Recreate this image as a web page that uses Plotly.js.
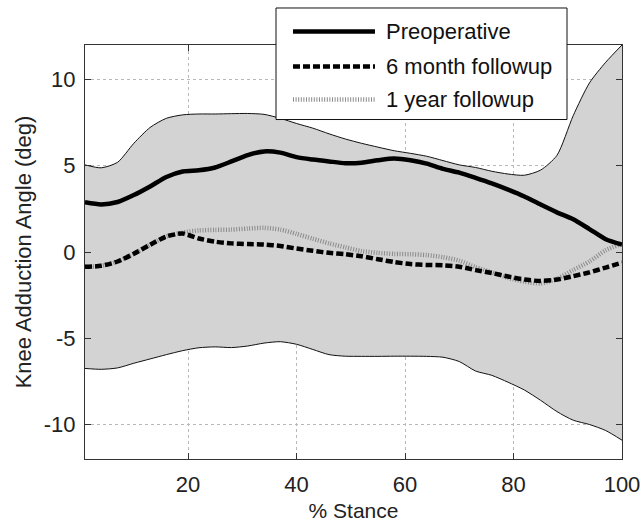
<!DOCTYPE html>
<html>
<head>
<meta charset="utf-8">
<script src="https://cdn.plot.ly/plotly-3.0.1.min.js"></script>
<style>html,body{margin:0;padding:0;background:#fff;}#chart{width:641px;height:522px;}</style>
</head>
<body>
<div id="chart"></div>
<script>
// % stance sample points
const stance = [1,4,7,10,13,16,19,22,25,28,31,34,37,40,43,46,49,52,55,58,61,64,67,70,73,76,79,82,85,88,91,94,97,100];
// normal band (upper / lower bounds), deg
const bandUpper = [5.05,4.88,5.2,6.3,7.22,7.75,7.95,8.0,8.0,8.02,8.03,7.98,7.75,7.45,7.18,6.85,6.55,6.3,6.08,5.87,5.72,5.55,5.3,5.05,4.9,4.68,4.52,4.45,4.75,5.6,7.9,9.8,11.0,12.0];
const bandLower = [-6.75,-6.8,-6.72,-6.45,-6.2,-5.95,-5.72,-5.55,-5.5,-5.54,-5.45,-5.28,-5.2,-5.35,-5.65,-5.95,-6.04,-6.05,-6.05,-6.04,-6.04,-6.05,-6.1,-6.35,-6.9,-7.15,-7.55,-8.0,-8.6,-9.25,-9.75,-10.0,-10.35,-10.91];
// group means, deg
const preoperative = [2.88,2.76,2.9,3.3,3.8,4.35,4.67,4.74,4.9,5.25,5.62,5.83,5.76,5.5,5.36,5.25,5.15,5.18,5.32,5.42,5.32,5.12,4.82,4.6,4.3,3.98,3.62,3.22,2.75,2.3,1.9,1.33,0.74,0.43];
const sixMonth = [-0.86,-0.8,-0.55,-0.1,0.42,0.9,1.07,0.78,0.6,0.5,0.46,0.43,0.35,0.2,0.07,-0.05,-0.13,-0.25,-0.42,-0.58,-0.7,-0.75,-0.77,-0.85,-1.05,-1.22,-1.42,-1.6,-1.68,-1.6,-1.4,-1.18,-0.9,-0.62];
const oneYear = [-0.86,-0.8,-0.55,-0.1,0.42,0.9,1.12,1.25,1.28,1.3,1.36,1.4,1.3,1.05,0.77,0.5,0.27,0.05,-0.05,-0.11,-0.13,-0.18,-0.3,-0.5,-0.88,-1.18,-1.5,-1.72,-1.82,-1.55,-1.05,-0.55,0.1,0.49];

const seriesNames = ["Preoperative", "6 month followup", "1 year followup"];
const xTicks = [20,40,60,80,100];
const xTickText = ["20","40","60","80","100"];
const yTicks = [-10,-5,0,5,10];
const yTickText = ["-10","-5","0","5","10"];

const FONT = "Liberation Sans, Arial, Helvetica, sans-serif";
const sm = 0.7;

const styles = [
  {color:"#000", width:4.5, dash:"solid"},
  {color:"#000", width:4.5, dash:"7px,3px"},
  {color:"#8a8a8a", width:4.5, dash:"1px,1.6px"}
];

const traces = [
  {x: stance, y: bandLower, mode:"lines", line:{color:"#111", width:1, shape:"spline", smoothing:sm}, showlegend:false, hoverinfo:"skip"},
  {x: stance, y: bandUpper, mode:"lines", fill:"tonexty", fillcolor:"#d3d3d3", line:{color:"#111", width:1, shape:"spline", smoothing:sm}, showlegend:false, hoverinfo:"skip"},
  {x: stance, y: oneYear, name: seriesNames[2], mode:"lines", line:{color:styles[2].color, width:styles[2].width, dash:styles[2].dash, shape:"spline", smoothing:sm}, showlegend:false},
  {x: stance, y: sixMonth, name: seriesNames[1], mode:"lines", line:{color:styles[1].color, width:styles[1].width, dash:styles[1].dash, shape:"spline", smoothing:sm}, showlegend:false},
  {x: stance, y: preoperative, name: seriesNames[0], mode:"lines", line:{color:styles[0].color, width:styles[0].width, dash:styles[0].dash, shape:"spline", smoothing:sm}, showlegend:false}
];

// manual legend (box, samples, labels) in paper coordinates
const legRows = [1.0326, 0.9481, 0.8684];
const shapes = [
  {type:"rect", xref:"paper", yref:"paper", x0:0.3557, x1:0.8976, y0:0.820, y1:1.0894, fillcolor:"#fff", line:{color:"#111", width:1}, layer:"above"}
];
const annotations = [];
seriesNames.forEach((n,i)=>{
  shapes.push({type:"line", xref:"paper", yref:"paper", x0:0.3873, x1:0.5400, y0:legRows[i], y1:legRows[i], line:{color:styles[i].color, width:styles[i].width, dash:styles[i].dash}, layer:"above"});
  annotations.push({xref:"paper", yref:"paper", x:0.5568, y:legRows[i], xanchor:"left", yanchor:"middle", text:n, showarrow:false, font:{family:FONT, size:22, color:"#111"}});
});

const axisCommon = {
  showline:true, linecolor:"#333", linewidth:1, mirror:"ticks",
  ticks:"inside", ticklen:6, tickcolor:"#333", tickwidth:1,
  showgrid:true, gridcolor:"#b8b8b8", griddash:"dot", gridwidth:1,
  zeroline:false, tickmode:"array",
  tickfont:{family:FONT, size:22, color:"#222"}
};

const layout = {
  width:641, height:522,
  margin:{l:85, r:19, t:45, b:63},
  paper_bgcolor:"#fff", plot_bgcolor:"#fff",
  showlegend:false,
  font:{family:FONT, color:"#222"},
  xaxis: Object.assign({}, axisCommon, {range:[1,100], tickvals:xTicks, ticktext:xTickText, ticklabelstandoff:6,
    title:{text:"% Stance", font:{family:FONT, size:21, color:"#222"}, standoff:6}}),
  yaxis: Object.assign({}, axisCommon, {range:[-12,12], tickvals:yTicks, ticktext:yTickText, ticklabelstandoff:4,
    title:{text:"Knee Adduction Angle (deg)", font:{family:FONT, size:22, color:"#222"}, standoff:6}}),
  shapes: shapes,
  annotations: annotations
};

Plotly.newPlot("chart", traces, layout, {staticPlot:true, displayModeBar:false});
</script>
</body>
</html>
